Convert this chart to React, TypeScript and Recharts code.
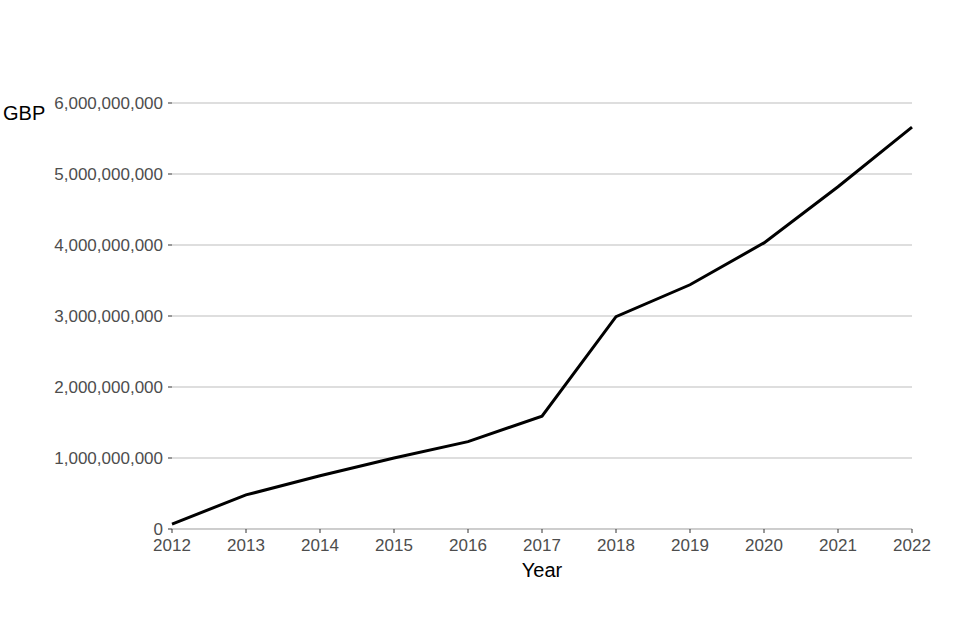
import React from 'react'
import { CartesianGrid, Line, LineChart, XAxis, YAxis } from 'recharts'

const YEARS = [2012, 2013, 2014, 2015, 2016, 2017, 2018, 2019, 2020, 2021, 2022]
const GBP = [
  70000000, 480000000, 750000000, 1000000000, 1230000000, 1590000000,
  2990000000, 3440000000, 4030000000, 4820000000, 5660000000,
]
const Y_TICKS = [0, 1000000000, 2000000000, 3000000000, 4000000000, 5000000000, 6000000000]

const FONT = '"Liberation Sans", Arial, sans-serif'

export default function App() {
  const rows = YEARS.map((year, i) => ({ year, gbp: GBP[i] }))

  return (
    <div style={{ position: 'absolute', left: 0, top: 0, width: 960, height: 640, background: '#fff', fontFamily: FONT }}>
      <LineChart width={960} height={640} data={rows} margin={{ top: 103, right: 48, bottom: 51, left: 0 }}>
        <CartesianGrid vertical={false} stroke="#bdbdbd" strokeWidth={1} />
        <XAxis
          dataKey="year"
          type="number"
          domain={[2012, 2022]}
          ticks={YEARS}
          height={60}
          axisLine={{ stroke: '#bdbdbd' }}
          tickLine={{ stroke: '#333' }}
          tickSize={4}
          tickMargin={6}
          tick={{ fill: '#4d4d4d', fontSize: 17, fontFamily: FONT }}
          label={{ value: 'Year', position: 'insideBottom', offset: 12, fill: '#000', fontSize: 20, fontFamily: FONT }}
        />
        <YAxis
          type="number"
          domain={[0, 6000000000]}
          ticks={Y_TICKS}
          width={172}
          axisLine={false}
          tickLine={{ stroke: '#333' }}
          tickSize={4}
          tickMargin={5}
          tick={{ fill: '#4d4d4d', fontSize: 17, fontFamily: FONT }}
          tickFormatter={(v) => Number(v).toLocaleString('en-US')}
          label={{ value: 'GBP', position: 'insideTopLeft', offset: 3, fill: '#000', fontSize: 20, fontFamily: FONT }}
        />
        <Line
          type="linear"
          dataKey="gbp"
          stroke="#000"
          strokeWidth={3}
          dot={false}
          activeDot={false}
          isAnimationActive={false}
        />
      </LineChart>
    </div>
  )
}
